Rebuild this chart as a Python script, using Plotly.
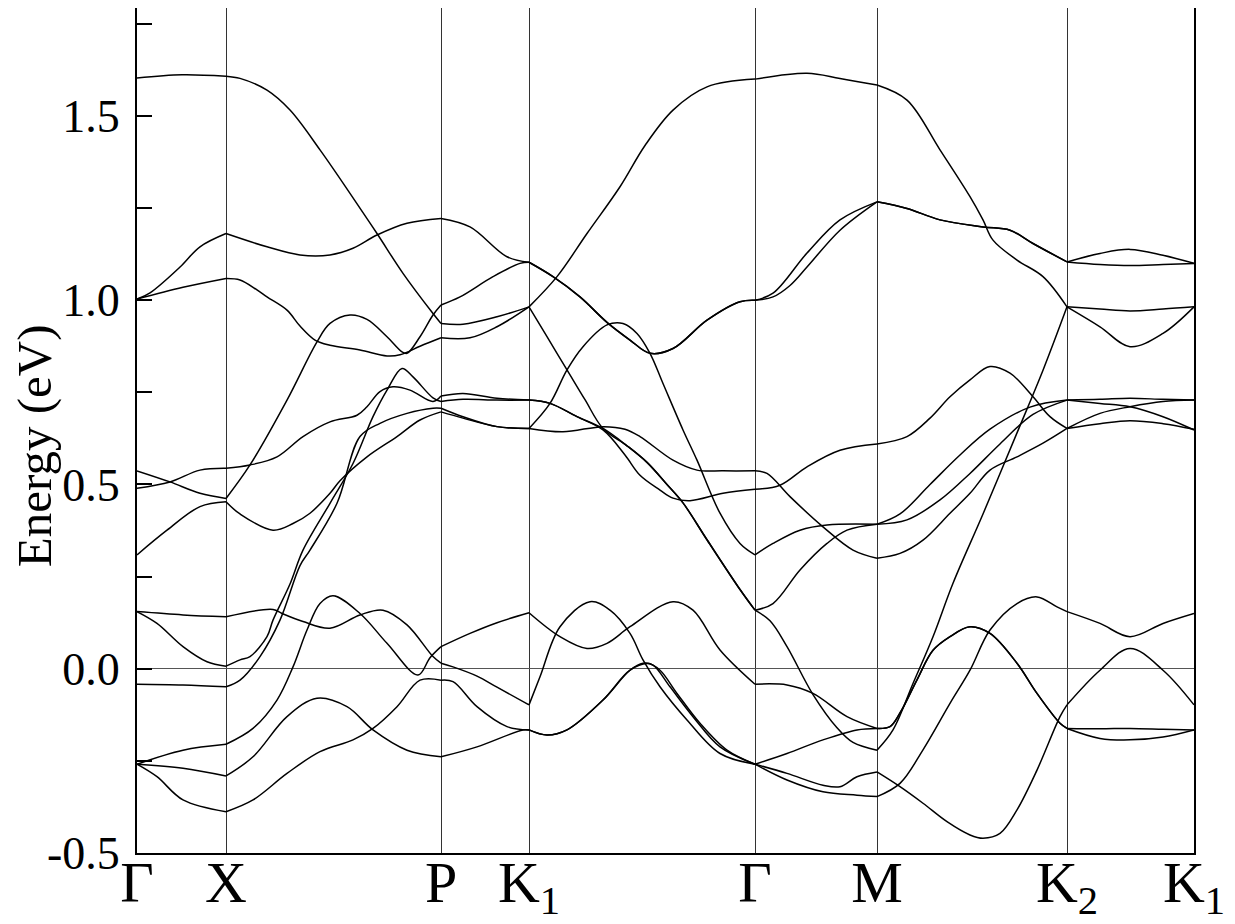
import plotly.graph_objects as go

# high-symmetry points along the k-path
K_POINTS = [0.0, 0.89, 3.04, 3.92, 6.18, 7.40, 9.30, 10.57]
K_LABELS = ["Γ", "X", "P", "K<sub>1</sub>", "Γ", "M", "K<sub>2</sub>", "K<sub>1</sub>"]

Y_TICKS = [-0.5, 0.0, 0.5, 1.0, 1.5]
Y_TICK_TEXT = ["-0.5", "0.0", "0.5", "1.0", "1.5"]

# bands: (k, energy in eV)
band_01 = [(0, 1.603), (0.45, 1.612), (0.89, 1.608),
           (1.03, 1.602), (1.30, 1.570), (1.53, 1.516), (1.83, 1.408), (2.13, 1.29), (2.40, 1.181),
           (2.66, 1.073), (2.96, 0.964), (3.04, 0.937),
           (3.26, 0.935), (3.60, 0.955), (3.92, 0.982),
           (4.20, 1.064), (4.50, 1.181), (4.83, 1.308), (5.08, 1.42), (5.36, 1.516), (5.70, 1.579), (6.18, 1.600),
           (6.70, 1.616), (7.03, 1.602), (7.40, 1.584),
           (7.70, 1.543), (8.03, 1.408), (8.33, 1.281), (8.46, 1.218), (8.56, 1.163), (8.80, 1.109),
           (9.06, 1.064), (9.30, 0.982),
           (9.63, 0.976), (9.93, 0.971), (10.26, 0.976), (10.57, 0.982)]

band_02 = [(0, 1.003), (0.13, 1.02), (0.43, 1.090), (0.63, 1.145), (0.89, 1.181),
           (1.30, 1.145), (1.63, 1.123), (1.93, 1.123), (2.16, 1.141), (2.40, 1.177), (2.70, 1.209), (3.04, 1.222),
           (3.33, 1.199), (3.70, 1.118), (3.92, 1.103),
           (4.16, 1.064), (4.43, 1.009), (4.70, 0.94), (4.93, 0.892), (5.13, 0.856), (5.36, 0.869),
           (5.70, 0.946), (6.03, 0.996), (6.18, 1.0),
           (6.36, 1.019), (6.70, 1.128), (7.03, 1.218), (7.40, 1.267),
           (7.70, 1.249), (8.03, 1.218), (8.46, 1.199), (8.73, 1.190), (8.96, 1.154), (9.30, 1.104),
           (9.63, 1.127), (9.93, 1.138), (10.26, 1.122), (10.57, 1.100)]

band_03 = [(0, 1.003), (0.46, 1.035), (0.89, 1.059),
           (1.03, 1.055), (1.20, 1.028), (1.30, 1.009), (1.50, 0.973), (1.63, 0.93), (1.78, 0.892),
           (1.93, 0.878), (2.23, 0.865), (2.50, 0.849), (2.63, 0.852), (2.83, 0.875), (3.04, 0.898),
           (3.33, 0.898), (3.60, 0.928), (3.92, 0.982),
           (4.10, 0.901), (4.30, 0.811), (4.48, 0.73), (4.66, 0.652), (4.90, 0.605), (5.10, 0.56),
           (5.30, 0.50), (5.46, 0.45), (5.70, 0.35), (6.03, 0.215), (6.18, 0.159),
           (6.33, 0.13), (6.50, 0.06), (6.76, -0.07), (7.00, -0.16), (7.16, -0.20), (7.40, -0.221),
           (7.56, -0.166), (7.76, -0.04), (7.96, 0.087), (8.16, 0.232), (8.46, 0.42), (8.80, 0.64),
           (9.06, 0.81), (9.30, 0.982),
           (9.63, 0.928), (9.93, 0.874), (10.26, 0.910), (10.57, 0.982)]

band_04 = [(0, 0.537), (0.33, 0.507), (0.63, 0.476), (0.89, 0.462),
           (1.13, 0.553), (1.50, 0.729), (1.80, 0.887), (1.93, 0.937), (2.13, 0.960), (2.30, 0.948),
           (2.50, 0.901), (2.65, 0.860), (2.70, 0.856), (2.83, 0.901), (2.96, 0.960), (3.04, 0.987),
           (3.23, 1.009), (3.56, 1.064), (3.83, 1.100), (3.92, 1.103),
           (4.16, 1.064), (4.43, 1.009), (4.70, 0.94), (4.93, 0.892), (5.13, 0.856), (5.36, 0.869),
           (5.70, 0.946), (6.03, 0.996), (6.18, 1.0),
           (6.36, 1.009), (6.53, 1.04), (6.70, 1.09), (7.03, 1.19), (7.40, 1.267),
           (7.70, 1.249), (8.03, 1.218), (8.46, 1.199), (8.73, 1.190), (8.96, 1.154), (9.30, 1.104),
           (9.63, 1.097), (9.93, 1.094), (10.26, 1.097), (10.57, 1.100)]

band_05 = [(0, 0.490), (0.33, 0.507), (0.63, 0.539), (0.89, 0.544),
           (1.13, 0.553), (1.40, 0.575), (1.66, 0.630), (1.93, 0.670), (2.20, 0.688), (2.30, 0.711),
           (2.43, 0.752), (2.56, 0.765), (2.73, 0.756), (2.96, 0.725), (3.04, 0.740),
           (3.26, 0.747), (3.60, 0.734), (3.92, 0.729),
           (4.13, 0.720), (4.40, 0.684), (4.66, 0.648), (4.88, 0.58), (5.03, 0.525), (5.23, 0.485),
           (5.36, 0.463), (5.53, 0.456), (5.86, 0.476), (6.18, 0.487),
           (6.43, 0.498), (6.70, 0.548), (7.03, 0.593), (7.40, 0.610),
           (7.70, 0.630), (7.93, 0.68), (8.13, 0.738), (8.33, 0.784), (8.53, 0.820), (8.73, 0.802),
           (8.96, 0.738), (9.13, 0.684), (9.30, 0.652),
           (9.63, 0.693), (9.93, 0.711), (10.26, 0.725), (10.57, 0.729)]

band_06 = [(0, 0.309), (0.30, 0.376), (0.63, 0.440), (0.89, 0.453),
           (1.03, 0.42), (1.36, 0.376), (1.56, 0.394), (1.73, 0.422), (1.93, 0.476), (2.03, 0.51),
           (2.30, 0.575), (2.60, 0.630), (2.83, 0.675), (3.04, 0.697),
           (3.26, 0.68), (3.60, 0.657), (3.92, 0.652),
           (4.26, 0.643), (4.66, 0.657), (4.88, 0.65), (5.03, 0.630), (5.36, 0.566), (5.60, 0.539),
           (5.86, 0.537), (6.18, 0.537),
           (6.30, 0.530), (6.53, 0.467), (6.86, 0.385), (7.16, 0.322), (7.40, 0.300),
           (7.63, 0.313), (7.86, 0.349), (8.13, 0.422), (8.33, 0.476), (8.53, 0.539), (8.80, 0.575),
           (9.06, 0.612), (9.30, 0.652),
           (9.63, 0.665), (9.93, 0.673), (10.26, 0.665), (10.57, 0.650)]

band_07 = [(0, 0.155), (0.46, 0.146), (0.89, 0.141),
           (1.36, 0.161), (1.45, 0.150), (1.66, 0.128), (1.93, 0.110), (2.23, 0.146), (2.46, 0.159),
           (2.70, 0.119), (2.96, 0.033), (3.04, 0.015),
           (3.16, 0.005), (3.40, -0.02), (3.60, -0.05), (3.92, -0.098),
           (4.03, -0.022), (4.23, 0.114), (4.53, 0.182), (4.73, 0.159), (4.93, 0.096), (5.06, 0.024),
           (5.23, -0.049), (5.50, -0.139), (5.83, -0.230), (6.18, -0.259),
           (6.50, -0.230), (6.86, -0.193), (7.20, -0.166), (7.40, -0.162),
           (7.53, -0.157), (7.63, -0.12), (7.80, -0.03), (7.96, 0.05), (8.13, 0.087), (8.33, 0.114),
           (8.53, 0.096), (8.80, 0.015), (9.00, -0.067), (9.23, -0.148), (9.30, -0.162),
           (9.63, -0.189), (9.93, -0.193), (10.26, -0.185), (10.57, -0.166)]

band_08 = [(0, 0.155), (0.20, 0.123), (0.46, 0.060), (0.70, 0.019), (0.89, 0.007),
           (1.03, 0.024), (1.13, 0.033), (1.30, 0.087), (1.36, 0.132), (1.53, 0.23), (1.66, 0.322),
           (1.93, 0.449), (2.16, 0.557), (2.36, 0.684), (2.50, 0.756), (2.65, 0.815), (2.76, 0.792),
           (2.96, 0.735), (3.04, 0.725),
           (3.26, 0.731), (3.60, 0.729), (3.92, 0.729),
           (4.13, 0.720), (4.40, 0.684), (4.66, 0.652), (4.90, 0.605), (5.10, 0.56),
           (5.30, 0.50), (5.46, 0.45), (5.70, 0.35), (6.03, 0.215), (6.18, 0.159),
           (6.36, 0.177), (6.63, 0.268), (6.90, 0.340), (7.10, 0.376), (7.40, 0.392),
           (7.63, 0.42), (7.93, 0.50), (8.23, 0.58), (8.53, 0.65), (8.93, 0.71), (9.30, 0.729),
           (9.63, 0.720), (9.93, 0.711), (10.26, 0.684), (10.57, 0.648)]

band_09 = [(0, -0.042), (0.46, -0.044), (0.89, -0.049),
           (1.03, -0.031), (1.23, 0.033), (1.43, 0.132), (1.63, 0.28), (1.73, 0.322), (2.00, 0.449),
           (2.23, 0.630), (2.43, 0.666), (2.70, 0.693), (2.96, 0.707), (3.04, 0.707),
           (3.26, 0.684), (3.60, 0.657), (3.92, 0.652),
           (4.13, 0.720), (4.30, 0.811), (4.46, 0.874), (4.70, 0.933), (4.86, 0.937), (5.00, 0.910),
           (5.13, 0.856), (5.26, 0.774), (5.46, 0.648), (5.60, 0.566), (5.83, 0.422), (6.03, 0.340),
           (6.18, 0.309),
           (6.36, 0.340), (6.63, 0.376), (6.90, 0.390), (7.40, 0.392),
           (7.70, 0.404), (8.03, 0.458), (8.33, 0.53), (8.63, 0.61), (8.96, 0.69), (9.30, 0.729),
           (9.63, 0.731), (9.93, 0.734), (10.26, 0.731), (10.57, 0.729)]

band_10 = [(0, -0.259), (0.46, -0.221), (0.89, -0.205),
           (1.16, -0.162), (1.40, -0.085), (1.56, 0.005), (1.70, 0.105), (1.83, 0.177), (1.96, 0.198),
           (2.23, 0.150), (2.50, 0.069), (2.81, -0.017), (2.93, 0.03), (3.04, 0.060),
           (3.33, 0.096), (3.60, 0.125), (3.92, 0.152),
           (4.23, 0.087), (4.50, 0.055), (4.70, 0.069), (4.93, 0.114), (5.36, 0.182), (5.56, 0.159),
           (5.83, 0.051), (6.18, -0.042),
           (6.50, -0.044), (6.76, -0.067), (7.10, -0.130), (7.40, -0.162),
           (7.53, -0.157), (7.63, -0.12), (7.80, -0.03), (7.96, 0.05), (8.13, 0.087), (8.33, 0.114),
           (8.53, 0.096), (8.80, 0.015), (9.00, -0.067), (9.23, -0.148), (9.30, -0.162),
           (9.63, -0.163), (9.93, -0.162), (10.26, -0.164), (10.57, -0.166)]

band_11 = [(0, -0.259), (0.46, -0.270), (0.89, -0.291),
           (1.16, -0.239), (1.50, -0.130), (1.80, -0.080), (2.10, -0.103), (2.36, -0.166), (2.70, -0.221),
           (3.04, -0.239),
           (3.40, -0.212), (3.86, -0.166), (3.92, -0.166),
           (4.10, -0.180), (4.30, -0.166), (4.66, -0.085), (4.93, -0.004), (5.06, 0.015), (5.16, 0.010),
           (5.33, -0.049), (5.56, -0.130), (5.83, -0.212), (6.18, -0.259),
           (6.50, -0.284), (6.86, -0.316), (7.03, -0.320), (7.20, -0.293), (7.40, -0.280),
           (7.63, -0.320), (7.86, -0.365), (8.10, -0.415), (8.33, -0.451), (8.46, -0.460), (8.63, -0.447),
           (8.80, -0.383), (9.00, -0.275), (9.23, -0.130), (9.30, -0.098),
           (9.63, -0.004), (9.93, 0.055), (10.26, -0.004), (10.57, -0.098)]

band_12 = [(0, -0.259), (0.20, -0.293), (0.46, -0.356), (0.89, -0.388),
           (1.16, -0.356), (1.50, -0.284), (1.83, -0.225), (2.16, -0.193), (2.36, -0.162), (2.60, -0.103),
           (2.83, -0.031), (3.04, -0.031),
           (3.16, -0.035), (3.40, -0.103), (3.70, -0.157), (3.92, -0.166),
           (4.10, -0.180), (4.30, -0.166), (4.66, -0.085), (4.93, -0.004), (5.11, 0.014), (5.23, -0.004),
           (5.40, -0.067), (5.63, -0.148), (5.90, -0.221), (6.18, -0.259),
           (6.50, -0.302), (6.86, -0.334), (7.20, -0.343), (7.40, -0.347),
           (7.63, -0.311), (7.86, -0.22), (8.13, -0.094), (8.33, -0.004), (8.53, 0.105), (8.80, 0.177),
           (9.00, 0.195), (9.20, 0.168), (9.30, 0.155),
           (9.63, 0.123), (9.93, 0.087), (10.26, 0.123), (10.57, 0.150)]

bands = [band_01, band_02, band_03, band_04, band_05, band_06,
         band_07, band_08, band_09, band_10, band_11, band_12]


def split_at_kpoints(band):
    # break the line at each high-symmetry point so kinks are kept
    xs, ys = [], []
    inner = K_POINTS[1:-1]
    for k, e in band:
        xs.append(k)
        ys.append(e)
        if any(abs(k - kp) < 1e-6 for kp in inner):
            xs += [None, k]
            ys += [None, e]
    return xs, ys


fig = go.Figure()
for band in bands:
    xs, ys = split_at_kpoints(band)
    fig.add_trace(go.Scatter(
        x=xs, y=ys, mode="lines",
        line=dict(color="black", width=1.5, shape="spline", smoothing=1.0),
        connectgaps=False, showlegend=False, hoverinfo="skip",
    ))

serif = "Liberation Serif, Times New Roman, serif"

# page body adds an 8px offset, so the figure is sized to fit the window
fig.update_layout(
    width=1227, height=916,
    margin=dict(l=129, r=41, t=0, b=71, autoexpand=False),
    paper_bgcolor="white", plot_bgcolor="white",
    font=dict(family=serif, color="black"),
    xaxis=dict(
        range=[0, K_POINTS[-1]], automargin=False,
        tickmode="array", tickvals=K_POINTS, ticktext=K_LABELS,
        tickfont=dict(size=58, family=serif),
        ticks="", ticklabelstandoff=-23,
        showgrid=True, gridcolor="#333333", gridwidth=1,
        zeroline=False, showline=True, linecolor="black", linewidth=2, mirror=True,
    ),
    yaxis=dict(
        range=[-0.5, 1.793], automargin=False,
        tickmode="array", tickvals=Y_TICKS, ticktext=Y_TICK_TEXT,
        tickfont=dict(size=46, family=serif),
        ticks="inside", ticklen=15, tickwidth=1.5, tickcolor="black",
        minor=dict(tickmode="linear", tick0=0, dtick=0.25, ticks="inside", ticklen=15,
                   tickwidth=1.5, tickcolor="black"),
        showgrid=False,
        zeroline=True, zerolinecolor="#555555", zerolinewidth=1,
        showline=True, linecolor="black", linewidth=2, mirror=True,
        ticklabelstandoff=6,
    ),
    annotations=[dict(
        text="Energy (eV)", textangle=-90, showarrow=False,
        xref="paper", yref="paper", x=-0.097, y=0.482,
        xanchor="center", yanchor="middle",
        font=dict(size=49, family=serif, color="black"),
    )],
)

fig.write_html("out.html")
